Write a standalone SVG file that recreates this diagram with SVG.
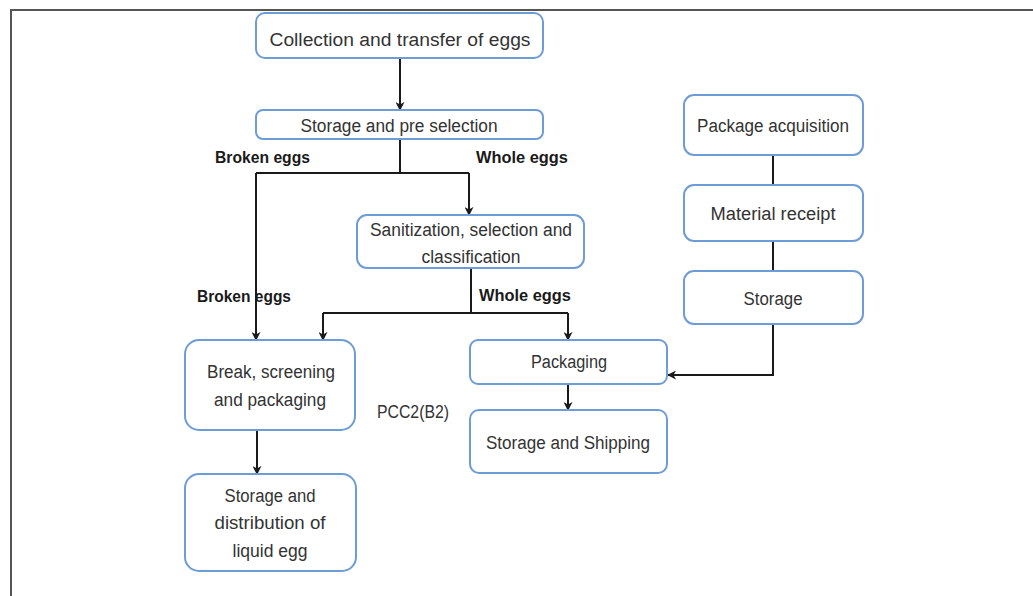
<svg xmlns="http://www.w3.org/2000/svg" width="1033" height="596" viewBox="0 0 1033 596">
<defs>
<marker id="ah" viewBox="0 0 10 10" refX="9" refY="5" markerWidth="9" markerHeight="9" orient="auto" markerUnits="userSpaceOnUse">
<path d="M0,0 L10,5 L0,10 L3,5 Z" fill="#1a1a1a"/>
</marker>
<style>
.box{fill:#fff;stroke:#6d9cd6;stroke-width:2}
.t{font-family:"Liberation Sans",Arial,sans-serif;font-size:18px;fill:#333;text-anchor:middle}
.lb{font-family:"Liberation Sans",Arial,sans-serif;font-size:17px;font-weight:bold;fill:#1a1a1a}
.pl{font-family:"Liberation Sans",Arial,sans-serif;font-size:18px;fill:#333}
.c{fill:none;stroke:#1a1a1a;stroke-width:2}
.ca{fill:none;stroke:#1a1a1a;stroke-width:2;marker-end:url(#ah)}
</style>
</defs>
<rect width="1033" height="596" fill="#fff"/>
<path d="M11,596 V10 H1033" fill="none" stroke="#555" stroke-width="2"/>

<g id="connectors">
<path class="ca" d="M400,58 V110"/>
<path class="c" d="M400,139 V173"/>
<path class="c" d="M256,173 H469"/>
<path class="ca" d="M256,173 V340"/>
<path class="ca" d="M469,173 V215"/>
<path class="c" d="M471,268 V313"/>
<path class="c" d="M323,313 H568"/>
<path class="ca" d="M323,313 V340"/>
<path class="ca" d="M568,313 V340"/>
<path class="ca" d="M257,430 V474"/>
<path class="ca" d="M568,384 V410"/>
<path class="c" d="M773,155 V185"/>
<path class="c" d="M773,241 V271"/>
<path class="ca" d="M773,324 V375 H668"/>
</g>

<g id="n1"><rect class="box" x="256" y="13" width="287" height="45" rx="9"/><text class="t" x="400" y="46" textLength="261" lengthAdjust="spacingAndGlyphs">Collection and transfer of eggs</text></g>
<g id="n2"><rect class="box" x="256" y="110" width="287" height="29" rx="7"/><text class="t" x="399" y="132" textLength="197" lengthAdjust="spacingAndGlyphs">Storage and pre selection</text></g>
<g id="n3"><rect class="box" x="357" y="215" width="227" height="53" rx="10"/><text class="t" x="471" y="236" textLength="202" lengthAdjust="spacingAndGlyphs">Sanitization, selection and</text><text class="t" x="471" y="263" textLength="99" lengthAdjust="spacingAndGlyphs">classification</text></g>
<g id="n4"><rect class="box" x="185" y="340" width="170" height="90" rx="14"/><text class="t" x="271" y="378" textLength="128" lengthAdjust="spacingAndGlyphs">Break, screening</text><text class="t" x="270" y="406" textLength="112" lengthAdjust="spacingAndGlyphs">and packaging</text></g>
<g id="n5"><rect class="box" x="185" y="474" width="171" height="97" rx="14"/><text class="t" x="270" y="502" textLength="91" lengthAdjust="spacingAndGlyphs">Storage and</text><text class="t" x="270" y="529" textLength="111" lengthAdjust="spacingAndGlyphs">distribution of</text><text class="t" x="270" y="557" textLength="75" lengthAdjust="spacingAndGlyphs">liquid egg</text></g>
<g id="n6"><rect class="box" x="470" y="340" width="197" height="44" rx="8"/><text class="t" x="569" y="368" textLength="76" lengthAdjust="spacingAndGlyphs">Packaging</text></g>
<g id="n7"><rect class="box" x="470" y="410" width="197" height="63" rx="9"/><text class="t" x="568" y="449" textLength="164" lengthAdjust="spacingAndGlyphs">Storage and Shipping</text></g>
<g id="n8"><rect class="box" x="684" y="95" width="179" height="60" rx="10"/><text class="t" x="773" y="132" textLength="152" lengthAdjust="spacingAndGlyphs">Package acquisition</text></g>
<g id="n9"><rect class="box" x="684" y="185" width="179" height="56" rx="10"/><text class="t" x="773" y="220" textLength="125" lengthAdjust="spacingAndGlyphs">Material receipt</text></g>
<g id="n10"><rect class="box" x="684" y="271" width="179" height="53" rx="10"/><text class="t" x="773" y="305" textLength="59" lengthAdjust="spacingAndGlyphs">Storage</text></g>

<g id="labels">
<text class="lb" x="215" y="163" textLength="95" lengthAdjust="spacingAndGlyphs">Broken eggs</text>
<text class="lb" x="476" y="163" textLength="92" lengthAdjust="spacingAndGlyphs">Whole eggs</text>
<text class="lb" x="197" y="302" textLength="94" lengthAdjust="spacingAndGlyphs">Broken eggs</text>
<text class="lb" x="479" y="301" textLength="92" lengthAdjust="spacingAndGlyphs">Whole eggs</text>
<text class="pl" x="377" y="418" textLength="72" lengthAdjust="spacingAndGlyphs">PCC2(B2)</text>
</g>
</svg>
